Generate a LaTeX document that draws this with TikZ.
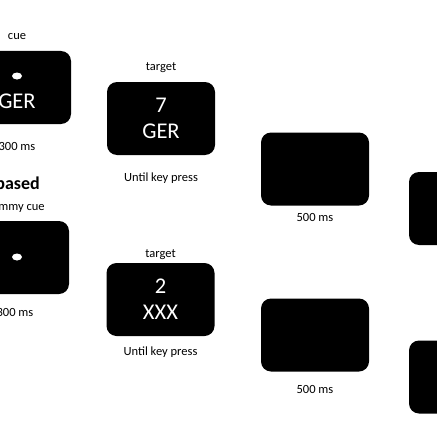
\documentclass[tikz,border=0pt]{standalone}
\usepackage{fontspec}
\setmainfont{Carlito}
\usetikzlibrary{positioning, shapes.geometric}

\begin{document}
\begin{tikzpicture}[
    x=1pt, y=-1pt,
    node distance=12pt,
    screen/.style={rectangle, fill=black, rounded corners=10pt, minimum width=108pt, minimum height=73pt, inner sep=0pt},
    screentext/.style={text=white, font=\fontsize{22.5}{26}\selectfont, align=center, inner sep=0pt},
    caption/.style={font=\fontsize{12.5}{14}\selectfont, inner sep=0pt, text height=8pt, text depth=2.5pt},
    cuedot/.style={ellipse, fill=white, minimum width=10pt, minimum height=7pt, inner sep=0pt}
]
    \useasboundingbox (0,0) rectangle (436,436);

    % Row 1: cue, target, blank, next
    \node (cue_a) [screen] at (17,87.5) {};
    \node (dot_a) [cuedot] at (17,76) {};
    \node (word_a) [screentext] at (17,101) {GER};
    \node (target_a) [screen] at (161,118.5) {};
    \node (stim_a) [screentext] at (target_a.center) {7\\GER};
    \node (blank_a) [screen] at (315,169) {};
    \node (next_a) [screen] at (463,208.5) {};

    \node (cue_a_lbl) [caption, above=9pt of cue_a] {cue};
    \node (cue_a_time) [caption, below=18pt of cue_a] {300 ms};
    \node (target_a_lbl) [caption, above=9pt of target_a] {target};
    \node (target_a_time) [caption, below=18pt of target_a] {Until key press};
    \node (blank_a_time) [caption, below=8pt of blank_a] {500 ms};

    % Row 2: dummy cue, target, blank, next
    \node (cond_b) [anchor=east, inner sep=0pt, font=\fontsize{18}{20}\selectfont\bfseries] at (40,183) {based};
    \node (cue_b) [screen] at (15,257.5) {};
    \node (dot_b) [cuedot] at (17,257) {};
    \node (target_b) [screen] at (160.5,299.5) {};
    \node (stim_b) [screentext] at (target_b.center) {2\\XXX};
    \node (blank_b) [screen] at (315,335) {};
    \node (next_b) [screen] at (463,377) {};

    \node (cue_b_lbl) [caption, above=8pt of cue_b] {dummy cue};
    \node (cue_b_time) [caption, below=14pt of cue_b] {300 ms};
    \node (target_b_lbl) [caption, above=3pt of target_b] {target};
    \node (target_b_time) [caption, below=11pt of target_b] {Until key press};
    \node (blank_b_time) [caption, below=14pt of blank_b] {500 ms};

\end{tikzpicture}
\end{document}
